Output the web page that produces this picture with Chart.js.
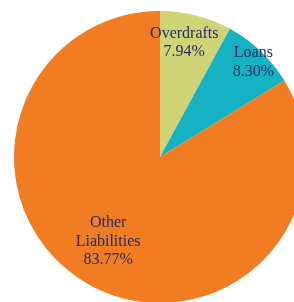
<!DOCTYPE html>
<html>
<head>
<meta charset="utf-8">
<script src="https://cdn.jsdelivr.net/npm/chart.js@4/dist/chart.umd.min.js"></script>
<style>
    html, body { margin: 0; padding: 0; background: #fff; overflow: hidden; }
    #wrap { width: 320px; height: 314px; }
</style>
</head>
<body>
<div id="wrap"><canvas id="chart" width="320" height="314"></canvas></div>
<script>
const categories = ['Overdrafts', 'Loans', 'Other Liabilities'];
const shares = [7.94, 8.30, 83.77];
const sliceColors = ['#D0D477', '#14B2C2', '#F27C22'];

// label lines and where they sit along the radius (fraction of outer radius)
const labelLines = [['Overdrafts'], ['Loans'], ['Other', 'Liabilities']];
const labelRadius = [0.80, 0.91, 0.68];
const labelAngleShift = [-0.04, 0.02, 0.04];

const sliceLabels = {
    id: 'sliceLabels',
    afterDatasetsDraw(chart) {
        const ctx = chart.ctx;
        const meta = chart.getDatasetMeta(0);
        ctx.save();
        ctx.font = '16px "Liberation Serif", "Times New Roman", serif';
        ctx.fillStyle = '#1E2B5E';
        ctx.textAlign = 'center';
        ctx.textBaseline = 'middle';
        meta.data.forEach((arc, i) => {
            const mid = (arc.startAngle + arc.endAngle) / 2 + labelAngleShift[i];
            const r = arc.outerRadius * labelRadius[i];
            const cx = arc.x + Math.cos(mid) * r;
            const cy = arc.y + Math.sin(mid) * r;
            const lines = labelLines[i].concat([shares[i].toFixed(2) + '%']);
            const lh = 18.5;
            const top = cy - (lines.length - 1) * lh / 2;
            lines.forEach((t, k) => ctx.fillText(t, cx, top + k * lh));
        });
        ctx.restore();
    }
};

new Chart(document.getElementById('chart'), {
    type: 'pie',
    data: {
        labels: categories,
        datasets: [{
            data: shares,
            backgroundColor: sliceColors,
            borderWidth: 0
        }]
    },
    options: {
        responsive: false,
        animation: false,
        layout: { padding: 11 },
        plugins: {
            legend: { display: false },
            tooltip: { enabled: false }
        }
    },
    plugins: [sliceLabels]
});
</script>
</body>
</html>
